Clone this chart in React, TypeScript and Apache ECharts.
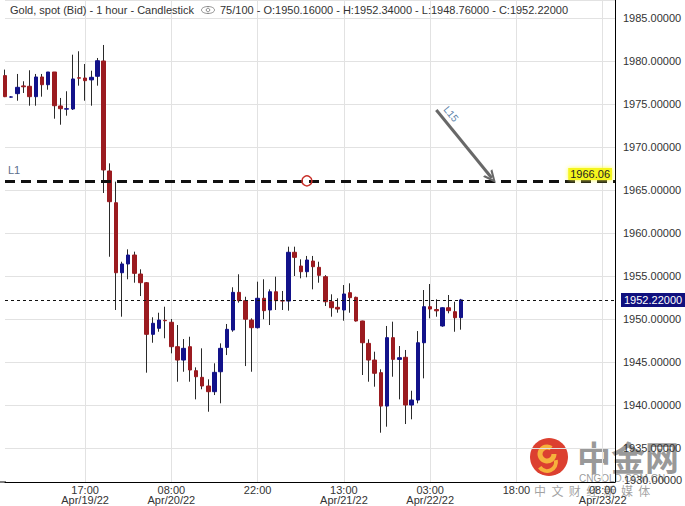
import React, { useEffect, useRef } from 'react';
import * as echarts from 'echarts';

// ---- data ----
const opens = [
  1978.3, 1975.8, 1976.2, 1977.1, 1977.06, 1975.85, 1978.14, 1977.24, 1978.72, 1974.77,
  1974.4, 1974.42, 1978.05, 1978.02, 1977.8, 1978.22, 1980.0, 1967.21, 1963.52, 1955.38,
  1956.4, 1957.44, 1955.23, 1954.22, 1948.22, 1948.92, 1949.85, 1949.62, 1946.78, 1945.23,
  1946.78, 1943.99, 1943.22, 1942.21, 1941.55, 1943.87, 1946.7, 1948.72, 1953.1, 1952.13,
  1949.88, 1948.99, 1952.41, 1951.05, 1953.17, 1952.15, 1952.09, 1957.76, 1956.16, 1955.5,
  1956.74, 1956.01, 1954.92, 1952.01, 1951.36, 1951.05, 1953.06, 1952.52, 1949.77, 1947.17,
  1945.23, 1943.76, 1939.88, 1947.83, 1945.3, 1945.55, 1940.0, 1940.58, 1947.24, 1951.43,
  1951.1, 1949.19, 1951.31, 1950.85, 1950.16,
];
const highs = [
  1979.0, 1975.9, 1978.49, 1977.64, 1978.92, 1978.49, 1978.49, 1978.72, 1978.72, 1975.7,
  1976.48, 1980.73, 1981.13, 1979.65, 1978.87, 1980.35, 1981.86, 1968.1, 1965.97, 1956.66,
  1958.1, 1957.83, 1955.78, 1954.3, 1950.2, 1950.73, 1951.43, 1950.0, 1949.3, 1947.67,
  1947.94, 1944.38, 1946.59, 1942.99, 1944.85, 1947.17, 1949.42, 1953.69, 1955.2, 1952.59,
  1950.08, 1954.34, 1954.62, 1953.45, 1954.92, 1953.26, 1958.41, 1958.41, 1956.94, 1957.33,
  1957.33, 1956.66, 1955.1, 1952.87, 1952.41, 1953.95, 1954.15, 1952.6, 1949.8, 1947.64,
  1946.2, 1944.15, 1949.19, 1949.69, 1946.86, 1946.4, 1941.66, 1948.6, 1953.37, 1954.07,
  1952.29, 1951.35, 1952.79, 1952.01, 1952.34,
];
const lows = [
  1975.8, 1975.75, 1975.38, 1976.28, 1974.8, 1974.8, 1975.85, 1976.66, 1973.29, 1972.59,
  1973.64, 1974.3, 1977.13, 1975.38, 1974.8, 1977.13, 1964.65, 1957.24, 1951.05, 1950.27,
  1954.62, 1954.22, 1952.67, 1943.76, 1947.24, 1948.52, 1947.76, 1946.01, 1942.71, 1943.87,
  1942.71, 1940.66, 1941.83, 1939.22, 1941.16, 1940.2, 1945.81, 1948.52, 1951.9, 1944.53,
  1943.87, 1948.9, 1949.97, 1949.3, 1951.05, 1951.05, 1950.97, 1955.0, 1954.73, 1954.85,
  1953.45, 1954.22, 1951.51, 1950.27, 1950.73, 1949.8, 1950.73, 1949.7, 1943.49, 1942.71,
  1942.13, 1936.78, 1937.48, 1943.29, 1940.66, 1937.79, 1938.34, 1940.2, 1943.1, 1950.08,
  1950.27, 1949.1, 1950.66, 1948.52, 1948.76,
];
const closes = [
  1975.85, 1975.82, 1976.94, 1977.0, 1975.85, 1978.14, 1977.24, 1978.72, 1974.8, 1974.45,
  1974.45, 1977.91, 1978.0, 1977.71, 1978.1, 1980.03, 1967.33, 1963.64, 1955.38, 1956.4,
  1957.44, 1955.31, 1954.22, 1948.22, 1949.5, 1949.88, 1949.8, 1946.78, 1945.23, 1946.59,
  1944.07, 1943.29, 1942.21, 1941.55, 1943.8, 1946.59, 1948.8, 1953.1, 1952.13, 1949.97,
  1948.99, 1952.41, 1950.97, 1953.17, 1952.13, 1952.09, 1957.76, 1957.17, 1955.5, 1956.86,
  1956.08, 1955.08, 1952.01, 1951.31, 1951.16, 1952.91, 1952.48, 1949.77, 1947.24, 1945.23,
  1943.69, 1939.88, 1947.83, 1945.31, 1945.5, 1940.0, 1940.58, 1947.24, 1951.43, 1951.16,
  1950.95, 1951.31, 1950.97, 1950.15, 1952.22,
];
const slotCount = 100;
const tickIndex = [13, 27, 41, 55, 69, 83, 97];
const tickLabels = ['17:00\nApr/19/22', '08:00\nApr/20/22', '22:00', '13:00\nApr/21/22', '03:00\nApr/22/22', '18:00', '08:00\nApr/23/22'];
const lastPrice = 1952.22;
const l1Price = 1966.06;
const markerIndex = 49;
const l15Start = [70, 1974.3];
const l15End = [79, 1966.4];
const headerTitle = 'Gold, spot (Bid) - 1 hour - Candlestick';
const headerValues = '75/100 - O:1950.16000 - H:1952.34000 - L:1948.76000 - C:1952.22000';
const bottomLabel = '1930.00000';

const FONT = '"Liberation Sans", Arial, sans-serif';
const UP = '#12128a';
const DOWN = '#9b1b20';

export default function App() {
  const ref = useRef<HTMLDivElement>(null);
  useEffect(() => {
    if (!ref.current) return;
    const chart = echarts.init(ref.current, null, { renderer: 'svg' });
    const categories = Array.from({ length: slotCount }, (_, i) => String(i));
    const full = opens.map((o, i) => [o, closes[i], lows[i], highs[i]]);
    const bodies = opens.map((o, i) => [o, closes[i], Math.min(o, closes[i]), Math.max(o, closes[i])]);

    chart.setOption({
      animation: false,
      backgroundColor: '#fff',
      grid: { left: 5, right: 70, top: 0, bottom: 24, containLabel: false },
      xAxis: {
        type: 'category',
        data: categories,
        boundaryGap: false,
        axisLine: { show: true, lineStyle: { color: '#000', width: 1 } },
        axisTick: { show: false },
        axisLabel: {
          interval: (i: number) => tickIndex.includes(i),
          formatter: (_v: string, i: number) => {
            const k = tickIndex.indexOf(i);
            return k >= 0 ? tickLabels[k] : '';
          },
          color: '#333',
          fontSize: 11,
          fontFamily: FONT,
          lineHeight: 10,
          margin: 3,
        },
        splitLine: { show: true, interval: (i: number) => tickIndex.includes(i), lineStyle: { color: '#e2e2e2', width: 1 } },
      },
      yAxis: {
        type: 'value',
        position: 'right',
        min: 1931.05,
        max: 1987.09,
        splitNumber: 11,
        minInterval: 5,
        maxInterval: 5,
        axisLine: { show: true, lineStyle: { color: '#000', width: 1 } },
        axisTick: { show: false },
        axisLabel: {
          showMinLabel: false,
          showMaxLabel: false,
          formatter: (v: number) => v.toFixed(5),
          color: '#333',
          fontSize: 11,
          fontFamily: FONT,
          margin: 8,
        },
        splitLine: { show: true, lineStyle: { color: '#e2e2e2', width: 1 } },
      },
      series: [
        {
          type: 'candlestick',
          data: full,
          barWidth: 1,
          clip: false,
          itemStyle: { color: '#2a2a2a', color0: '#2a2a2a', borderColor: '#2a2a2a', borderColor0: '#2a2a2a', borderWidth: 1 },
        },
        {
          type: 'candlestick',
          data: bodies,
          barWidth: 4,
          clip: false,
          itemStyle: { color: UP, color0: DOWN, borderColor: UP, borderColor0: DOWN, borderWidth: 1 },
          markPoint: {
            symbol: 'circle',
            symbolSize: 10,
            itemStyle: { color: 'rgba(255,255,255,0)', borderColor: '#c8302a', borderWidth: 1.5 },
            label: { show: false },
            data: [{ coord: [categories[markerIndex], l1Price] }],
          },
          markLine: {
            silent: true,
            symbol: 'none',
            data: [
              {
                yAxis: lastPrice,
                lineStyle: { color: '#111', width: 1, type: [3, 3] },
                label: {
                  show: true,
                  position: 'end',
                  formatter: lastPrice.toFixed(5),
                  color: '#fff',
                  backgroundColor: '#10107e',
                  padding: [2, 3, 1, 3],
                  fontSize: 11,
                  fontFamily: FONT,
                  distance: 6,
                },
              },
              {
                yAxis: l1Price,
                lineStyle: { color: '#111', width: 3, type: [10, 6] },
                label: {
                  show: true,
                  position: 'insideEndTop',
                  formatter: l1Price.toFixed(2),
                  color: '#222',
                  backgroundColor: '#f5f51a',
                  shadowColor: '#ffff40',
                  shadowBlur: 4,
                  padding: [1, 2, 0, 2],
                  fontSize: 11,
                  fontFamily: FONT,
                  distance: [3, 1],
                },
              },
              {
                yAxis: l1Price,
                lineStyle: { color: 'rgba(0,0,0,0)', width: 0 },
                label: {
                  show: true,
                  position: 'insideStartTop',
                  formatter: 'L1',
                  color: '#5b6e8c',
                  fontSize: 11,
                  fontFamily: FONT,
                  distance: [3, 5],
                },
              },
              [
                { coord: [categories[l15Start[0]], l15Start[1]], symbol: 'none' },
                {
                  coord: [categories[l15End[0]], l15End[1]],
                  symbol: 'path://M5,0 L10,11 L8,11 L5,4 L2,11 L0,11 Z',
                  symbolSize: [12, 13],
                  lineStyle: { color: '#686868', width: 3, type: 'solid' },
                  label: {
                    show: true,
                    position: 'insideStartTop',
                    formatter: 'L15',
                    color: '#5a7fa8',
                    fontSize: 10,
                    fontFamily: FONT,
                    distance: 4,
                  },
                },
              ],
            ],
          },
        },
      ],
      graphic: [
        {
          type: 'line', z: 10, shape: { x1: 0, y1: 482, x2: 6, y2: 482 },
          style: { stroke: '#000', lineWidth: 1 },
        },
        {
          type: 'text', x: 10, y: 10, z: 50,
          style: { text: headerTitle, font: `11px ${FONT}`, fill: '#333', verticalAlign: 'middle' },
        },
        {
          type: 'ellipse', z: 50, shape: { cx: 208, cy: 10, rx: 6.5, ry: 3.5 },
          style: { fill: 'none', stroke: '#888', lineWidth: 1 },
        },
        {
          type: 'circle', z: 50, shape: { cx: 208, cy: 10, r: 1.8 },
          style: { fill: 'none', stroke: '#888', lineWidth: 1 },
        },
        {
          type: 'text', x: 220, y: 10, z: 50,
          style: { text: headerValues, font: `11px ${FONT}`, fill: '#333', verticalAlign: 'middle' },
        },
        {
          type: 'text', x: 624, y: 480, z: 50,
          style: { text: bottomLabel, font: `11px ${FONT}`, fill: '#333', verticalAlign: 'middle' },
        },
        // watermark
        {
          type: 'group', z: 100,
          children: [
            { type: 'circle', shape: { cx: 549, cy: 457, r: 19 }, style: { fill: '#d9301e', opacity: 0.92 } },
            { type: 'arc', shape: { cx: 547, cy: 454, r: 7, startAngle: 0, endAngle: Math.PI * 1.7 }, style: { stroke: '#f6b23c', lineWidth: 5, fill: 'none' } },
            { type: 'arc', shape: { cx: 547, cy: 462, r: 9, startAngle: -0.2, endAngle: Math.PI * 0.8 }, style: { stroke: '#f6b23c', lineWidth: 4, fill: 'none' } },
            { type: 'text', x: 577, y: 456, style: { text: '中金网', font: 'bold 34px "Noto Sans CJK SC"', fill: 'rgba(120,120,120,0.75)', verticalAlign: 'middle' } },
            { type: 'text', x: 579, y: 478, style: { text: 'CNGOLD.COM.CN', font: `10px ${FONT}`, fill: 'rgba(110,110,110,0.7)', verticalAlign: 'middle' } },
            { type: 'text', x: 534, y: 490, style: { text: '中  文  财  经  新  媒  体', font: '12px "Noto Sans CJK SC"', fill: 'rgba(120,120,120,0.7)', verticalAlign: 'middle' } },
          ],
        },
      ],
    });
    return () => chart.dispose();
  }, []);
  return <div ref={ref} style={{ position: 'absolute', left: 0, top: 0, width: 685, height: 506, background: '#fff' }} />;
}
